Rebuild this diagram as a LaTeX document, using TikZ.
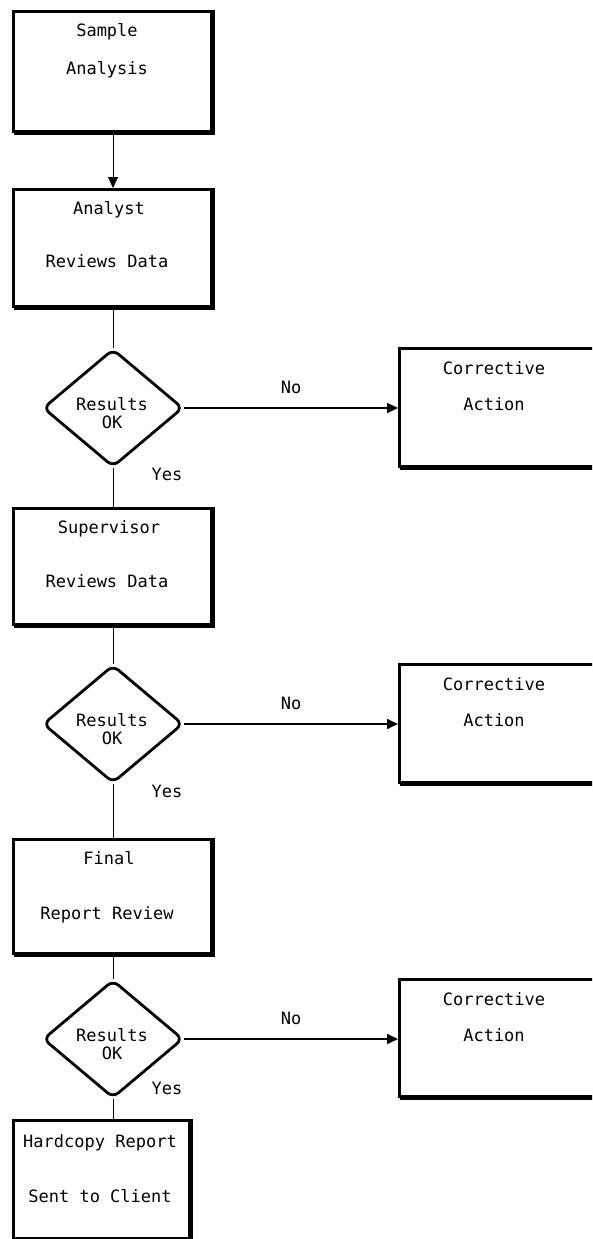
\documentclass[tikz,border=0pt]{standalone}
\usepackage{fontspec}
\newfontfamily\plotfont{DejaVu Sans Mono}
\usetikzlibrary{shapes.geometric,arrows.meta}
\begin{document}
\begin{tikzpicture}[x=1pt,y=-1pt,
  stepbox/.style={draw,line width=2.6pt,inner sep=0pt,minimum width=198pt,anchor=north west},
  fixbox/.style={draw,line width=2.6pt,inner sep=0pt,minimum width=196pt,minimum height=118pt,anchor=north west},
  decision/.style={draw,diamond,line width=2.8pt,rounded corners=7pt,inner sep=0pt,minimum width=140pt,minimum height=118pt},
  txt/.style={font=\plotfont\fontsize{17}{18}\selectfont,inner sep=0pt,anchor=mid},
  link/.style={line width=1pt},
  flow/.style={line width=1.6pt,-{Triangle[length=11pt,width=10pt]}},
  edge/.style={line width=2pt,line cap=butt}
]
\useasboundingbox (0,0) rectangle (592,1239);
\clip (0,0) rectangle (592,1239);
\fill[white] (0,0) rectangle (592,1239);

% main column of steps
\node[stepbox,minimum height=120pt] (b1) at (12,10) {};
\node[stepbox,minimum height=117pt] (b2) at (12,188) {};
\node[stepbox,minimum height=116pt] (b3) at (12,507) {};
\node[stepbox,minimum height=114pt] (b4) at (12,838) {};
\node[stepbox,minimum width=176pt,minimum height=118pt] (b5) at (12,1119) {};

% decisions
\node[decision] (d1) at (113,408) {};
\node[decision] (d2) at (113,724) {};
\node[decision] (d3) at (113,1039) {};

% corrective action boxes on the right
\node[fixbox] (c1) at (398,347) {};
\node[fixbox] (c2) at (398,663) {};
\node[fixbox,minimum height=117pt] (c3) at (398,978) {};

% heavier bottom/right edges on the boxes
\foreach \n in {b1,b2,b3,b4,b5}{
  \draw[edge] ([shift={(1.5,1.5)}]\n.south west) -- ([shift={(1.5,1.5)}]\n.south east) -- ([shift={(1.5,0)}]\n.north east);
}
\foreach \n in {c1,c2,c3}{
  \draw[edge] ([shift={(1.5,1.5)}]\n.south west) -- ([shift={(1.5,1.5)}]\n.south east);
}

% box texts
\node[txt] (t1a) at (107,34) {Sample};
\node[txt] (t1b) at (107,72) {Analysis};
\node[txt] (t2a) at (109,212) {Analyst};
\node[txt] (t2b) at (107,265) {Reviews Data};
\node[txt] (t3a) at (109,531) {Supervisor};
\node[txt] (t3b) at (107,585) {Reviews Data};
\node[txt] (t4a) at (109,862) {Final};
\node[txt] (t4b) at (107,917) {Report Review};
\node[txt] (t5a) at (100,1145) {Hardcopy Report};
\node[txt] (t5b) at (100,1200) {Sent to Client};

% decision texts
\foreach \d/\y in {d1/408,d2/724,d3/1039}{
  \node[txt] (\d r) at (112,\y) {Results};
  \node[txt] (\d k) at (112,\y+18) {OK};
}

% corrective action texts
\foreach \c/\y in {c1/347,c2/663,c3/978}{
  \node[txt] (\c a) at (494,\y+25) {Corrective};
  \node[txt] (\c b) at (494,\y+61) {Action};
}

% vertical connectors
\draw[flow,line width=1pt] (b1.south -| d1.north) -- (b2.north -| d1.north);
\draw[link] (b2.south -| d1.north) -- (d1.north);
\draw[link] (d1.south) -- (b3.north -| d1.south);
\draw[link] (b3.south -| d2.north) -- (d2.north);
\draw[link] (d2.south) -- (b4.north -| d2.south);
\draw[link] (b4.south -| d3.north) -- (d3.north);
\draw[link] (d3.south) -- (b5.north -| d3.south);

% "No" branches
\draw[flow] (d1.east) -- (d1.east -| c1.west);
\draw[flow] (d2.east) -- (d2.east -| c2.west);
\draw[flow] (d3.east) -- (d3.east -| c3.west);

\node[txt] (n1) at (291,391) {No};
\node[txt] (n2) at (291,707) {No};
\node[txt] (n3) at (291,1022) {No};
\node[txt] (y1) at (167,478) {Yes};
\node[txt] (y2) at (167,795) {Yes};
\node[txt] (y3) at (167,1092) {Yes};
\end{tikzpicture}
\end{document}
